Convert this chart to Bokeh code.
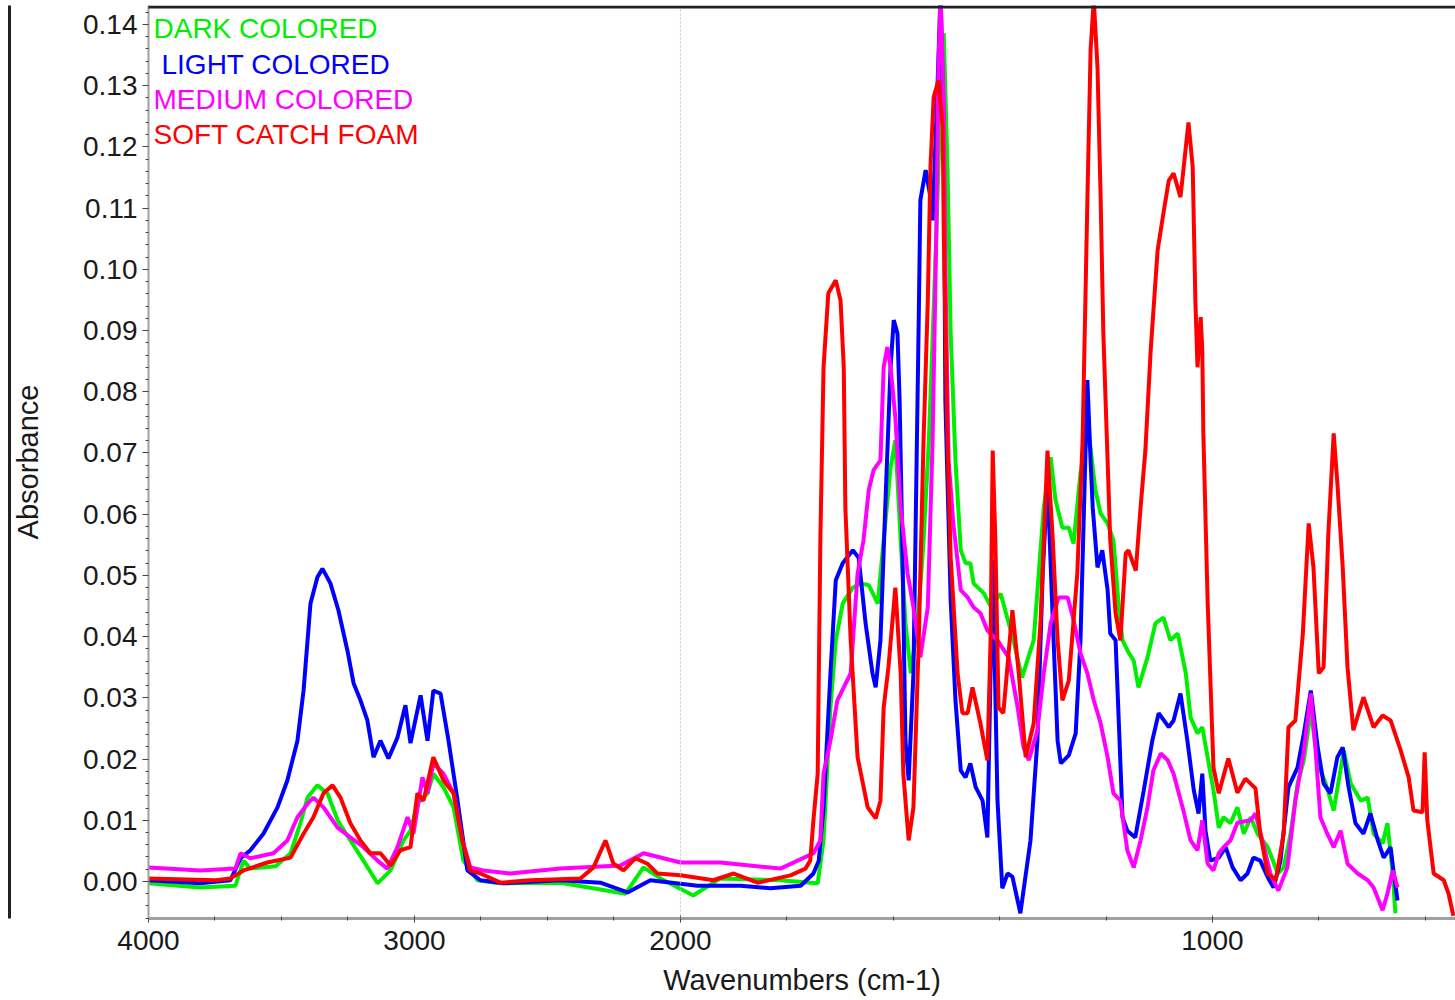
from bokeh.plotting import figure
from bokeh.models import (ColumnDataSource, Range1d, FixedTicker, PrintfTickFormatter,
                          Span, Label, BoxAnnotation, CustomJSTransform, LinearAxis)
from bokeh.transform import transform
from bokeh.embed import file_html
from bokeh.resources import INLINE

FONT = "Liberation Sans"

# (wavenumber cm-1, absorbance) pairs
GREEN = [(4000, -0.0003), (3805, -0.0010), (3673, -0.0007), (3643, 0.0034), (3617, 0.0021), (3522, 0.0025),
         (3466, 0.0046), (3429, 0.0095), (3402, 0.0137), (3365, 0.0157), (3327, 0.0144), (3289, 0.0100),
         (3241, 0.0067), (3192, 0.0034), (3139, -0.0003), (3090, 0.0018), (3041, 0.0067), (3015, 0.0083),
         (2989, 0.0127), (2951, 0.0144), (2929, 0.0176), (2891, 0.0154), (2853, 0.0121), (2816, 0.0034),
         (2763, 0.0002), (2677, -0.0003), (2451, -0.0002), (2207, -0.0020), (2139, 0.0023), (2075, 0.0005),
         (1976, -0.0023), (1925, 0.0005), (1812, 0.0002), (1755, -0.0002), (1742, -0.0003), (1731, 0.0067),
         (1718, 0.0284), (1708, 0.0394), (1695, 0.0454), (1676, 0.0480), (1661, 0.0487), (1646, 0.0484),
         (1629, 0.0454), (1618, 0.0557), (1605, 0.0676), (1596, 0.0721), (1586, 0.0557), (1577, 0.0422),
         (1567, 0.0340), (1554, 0.0422), (1543, 0.0557), (1533, 0.0721), (1520, 0.1031), (1511, 0.1276),
         (1505, 0.1386), (1498, 0.1167), (1492, 0.0895), (1483, 0.0688), (1473, 0.0541), (1464, 0.0520),
         (1455, 0.0520), (1449, 0.0487), (1430, 0.0471), (1417, 0.0450), (1398, 0.0470), (1374, 0.0394),
         (1358, 0.0333), (1336, 0.0394), (1317, 0.0611), (1304, 0.0693), (1295, 0.0623), (1282, 0.0578),
         (1270, 0.0578), (1261, 0.0552), (1248, 0.0667), (1233, 0.0737), (1220, 0.0639), (1210, 0.0601),
         (1197, 0.0585), (1186, 0.0557), (1176, 0.0448), (1169, 0.0394), (1157, 0.0373), (1148, 0.0361),
         (1139, 0.0317), (1122, 0.0366), (1107, 0.0422), (1092, 0.0431), (1079, 0.0394), (1065, 0.0405),
         (1050, 0.0340), (1041, 0.0268), (1028, 0.0242), (1019, 0.0252), (1009, 0.0203), (998, 0.0149),
         (988, 0.0088), (979, 0.0105), (966, 0.0095), (953, 0.0121), (941, 0.0078), (928, 0.0105),
         (915, 0.0078), (896, 0.0056), (877, 0.0013), (866, 0.0023), (853, 0.0078), (840, 0.0160),
         (828, 0.0198), (815, 0.0279), (802, 0.0193), (787, 0.0160), (772, 0.0116), (753, 0.0214),
         (740, 0.0160), (721, 0.0132), (708, 0.0137), (697, 0.0078), (680, 0.0062), (671, 0.0095),
         (661, 0.0013), (656, -0.0052)]

BLUE = [(4000, 0.0002), (3805, -0.0003), (3692, 0.0002), (3654, 0.0038), (3617, 0.0051), (3568, 0.0078),
        (3515, 0.0121), (3478, 0.0165), (3440, 0.0230), (3417, 0.0312), (3391, 0.0454), (3365, 0.0497),
        (3346, 0.0511), (3316, 0.0487), (3286, 0.0443), (3252, 0.0377), (3229, 0.0324), (3203, 0.0296),
        (3177, 0.0263), (3154, 0.0203), (3128, 0.0230), (3098, 0.0201), (3064, 0.0235), (3034, 0.0288),
        (3015, 0.0226), (2977, 0.0304), (2951, 0.0230), (2929, 0.0312), (2902, 0.0307), (2872, 0.0230),
        (2838, 0.0132), (2801, 0.0018), (2752, 0.0002), (2665, -0.0003), (2451, 0.0002), (2301, -0.0002),
        (2199, -0.0018), (2113, 0.0002), (1968, -0.0007), (1887, -0.0007), (1831, -0.0011), (1774, -0.0007),
        (1750, 0.0013), (1740, 0.0034), (1731, 0.0121), (1718, 0.0340), (1708, 0.0492), (1695, 0.0520),
        (1676, 0.0541), (1665, 0.0529), (1652, 0.0422), (1639, 0.0340), (1633, 0.0317), (1624, 0.0394),
        (1615, 0.0611), (1605, 0.0840), (1599, 0.0917), (1592, 0.0895), (1588, 0.0786), (1583, 0.0557),
        (1577, 0.0230), (1571, 0.0165), (1562, 0.0340), (1556, 0.0688), (1552, 0.0922), (1549, 0.1113),
        (1539, 0.1162), (1530, 0.1118), (1526, 0.1080), (1519, 0.1243), (1511, 0.1450), (1505, 0.1222),
        (1502, 0.0786), (1492, 0.0459), (1483, 0.0296), (1473, 0.0181), (1464, 0.0170), (1455, 0.0193),
        (1445, 0.0154), (1432, 0.0132), (1423, 0.0072), (1413, 0.0525), (1404, 0.0132), (1395, -0.0011),
        (1385, 0.0013), (1376, 0.0008), (1361, -0.0052), (1342, 0.0067), (1329, 0.0230), (1319, 0.0503),
        (1310, 0.0655), (1301, 0.0448), (1291, 0.0230), (1285, 0.0193), (1270, 0.0206), (1257, 0.0242),
        (1248, 0.0394), (1238, 0.0721), (1235, 0.0819), (1229, 0.0688), (1225, 0.0611), (1216, 0.0513),
        (1207, 0.0541), (1197, 0.0476), (1192, 0.0405), (1182, 0.0394), (1177, 0.0284), (1169, 0.0105),
        (1160, 0.0083), (1145, 0.0072), (1129, 0.0149), (1113, 0.0230), (1101, 0.0275), (1082, 0.0252),
        (1073, 0.0263), (1060, 0.0307), (1047, 0.0230), (1035, 0.0149), (1026, 0.0111), (1019, 0.0176),
        (1013, 0.0083), (1004, 0.0034), (988, 0.0039), (975, 0.0056), (962, 0.0023), (947, 0.0002),
        (934, 0.0013), (923, 0.0039), (910, 0.0034), (896, 0.0007), (885, -0.0010), (872, 0.0034),
        (857, 0.0154), (840, 0.0186), (828, 0.0242), (815, 0.0312), (802, 0.0219), (791, 0.0160),
        (778, 0.0144), (765, 0.0203), (755, 0.0219), (744, 0.0154), (731, 0.0095), (716, 0.0078),
        (703, 0.0111), (689, 0.0067), (678, 0.0039), (665, 0.0056), (659, 0.0013), (652, -0.0031)]

MAGENTA = [(4000, 0.0023), (3805, 0.0018), (3673, 0.0021), (3654, 0.0046), (3617, 0.0038), (3530, 0.0046),
           (3478, 0.0067), (3440, 0.0105), (3402, 0.0127), (3380, 0.0137), (3342, 0.0121), (3289, 0.0088),
           (3241, 0.0072), (3192, 0.0056), (3139, 0.0034), (3102, 0.0021), (3064, 0.0056), (3026, 0.0105),
           (3004, 0.0078), (2970, 0.0170), (2951, 0.0144), (2929, 0.0193), (2891, 0.0176), (2853, 0.0144),
           (2820, 0.0067), (2790, 0.0023), (2741, 0.0018), (2640, 0.0013), (2451, 0.0021), (2226, 0.0026),
           (2139, 0.0046), (2000, 0.0031), (1925, 0.0031), (1812, 0.0021), (1750, 0.0046), (1737, 0.0067),
           (1731, 0.0176), (1718, 0.0230), (1705, 0.0296), (1693, 0.0317), (1680, 0.0340), (1667, 0.0503),
           (1656, 0.0557), (1646, 0.0639), (1637, 0.0672), (1624, 0.0688), (1618, 0.0840), (1611, 0.0873),
           (1605, 0.0840), (1596, 0.0758), (1586, 0.0611), (1573, 0.0503), (1562, 0.0448), (1549, 0.0366),
           (1535, 0.0448), (1526, 0.0721), (1519, 0.1059), (1515, 0.1330), (1511, 0.1450), (1505, 0.1276),
           (1502, 0.1003), (1496, 0.0688), (1487, 0.0585), (1473, 0.0476), (1460, 0.0464), (1449, 0.0448),
           (1436, 0.0438), (1423, 0.0410), (1404, 0.0394), (1383, 0.0366), (1366, 0.0284), (1355, 0.0219),
           (1345, 0.0198), (1329, 0.0247), (1317, 0.0340), (1304, 0.0422), (1289, 0.0464), (1272, 0.0464),
           (1261, 0.0427), (1248, 0.0373), (1235, 0.0340), (1223, 0.0296), (1210, 0.0258), (1197, 0.0203),
           (1186, 0.0144), (1173, 0.0132), (1160, 0.0051), (1148, 0.0023), (1135, 0.0067), (1122, 0.0121),
           (1111, 0.0181), (1097, 0.0209), (1084, 0.0198), (1073, 0.0176), (1056, 0.0121), (1041, 0.0067),
           (1028, 0.0051), (1019, 0.0100), (1009, 0.0029), (998, 0.0018), (988, 0.0046), (979, 0.0056),
           (966, 0.0067), (953, 0.0096), (928, 0.0100), (919, 0.0111), (906, 0.0067), (891, 0.0013),
           (876, -0.0015), (859, 0.0023), (844, 0.0132), (828, 0.0214), (815, 0.0307), (806, 0.0214),
           (797, 0.0105), (784, 0.0078), (772, 0.0056), (759, 0.0083), (746, 0.0029), (727, 0.0013),
           (708, 0.0002), (697, -0.0010), (680, -0.0047), (671, -0.0020), (661, 0.0018), (652, -0.0010)]

RED = [(4000, 0.0005), (3747, 0.0002), (3692, 0.0005), (3643, 0.0018), (3553, 0.0031), (3466, 0.0039),
       (3417, 0.0078), (3380, 0.0105), (3342, 0.0144), (3308, 0.0157), (3278, 0.0137), (3241, 0.0095),
       (3203, 0.0067), (3166, 0.0046), (3128, 0.0046), (3090, 0.0026), (3053, 0.0051), (3015, 0.0056),
       (2989, 0.0144), (2966, 0.0132), (2929, 0.0203), (2891, 0.0165), (2853, 0.0144), (2820, 0.0067),
       (2790, 0.0018), (2752, 0.0013), (2677, -0.0002), (2564, 0.0002), (2376, 0.0005), (2327, 0.0023),
       (2282, 0.0067), (2252, 0.0029), (2214, 0.0018), (2169, 0.0038), (2124, 0.0029), (2087, 0.0013),
       (2000, 0.0010), (1938, 0.0002), (1900, 0.0013), (1855, -0.0002), (1793, 0.0010), (1765, 0.0021),
       (1756, 0.0034), (1750, 0.0100), (1742, 0.0176), (1737, 0.0557), (1731, 0.0840), (1722, 0.0961),
       (1708, 0.0982), (1699, 0.0949), (1693, 0.0840), (1690, 0.0611), (1680, 0.0394), (1667, 0.0203),
       (1648, 0.0121), (1633, 0.0103), (1624, 0.0132), (1618, 0.0284), (1609, 0.0350), (1596, 0.0480),
       (1586, 0.0340), (1581, 0.0176), (1571, 0.0067), (1562, 0.0121), (1552, 0.0394), (1543, 0.0721),
       (1535, 0.0949), (1530, 0.1167), (1524, 0.1281), (1515, 0.1309), (1507, 0.1232), (1505, 0.1059),
       (1498, 0.0721), (1492, 0.0529), (1479, 0.0340), (1470, 0.0275), (1460, 0.0275), (1451, 0.0317),
       (1436, 0.0258), (1423, 0.0198), (1417, 0.0394), (1413, 0.0704), (1408, 0.0557), (1402, 0.0284),
       (1393, 0.0275), (1376, 0.0443), (1364, 0.0340), (1351, 0.0203), (1336, 0.0258), (1323, 0.0426),
       (1310, 0.0704), (1300, 0.0557), (1291, 0.0394), (1282, 0.0296), (1270, 0.0328), (1254, 0.0503),
       (1244, 0.0721), (1235, 0.1113), (1229, 0.1358), (1223, 0.1440), (1216, 0.1330), (1210, 0.1113),
       (1205, 0.0895), (1197, 0.0688), (1192, 0.0557), (1182, 0.0438), (1173, 0.0394), (1163, 0.0536),
       (1158, 0.0541), (1144, 0.0508), (1135, 0.0611), (1126, 0.0704), (1116, 0.0868), (1103, 0.1031),
       (1092, 0.1092), (1082, 0.1145), (1073, 0.1157), (1060, 0.1118), (1050, 0.1199), (1045, 0.1240),
       (1037, 0.1167), (1032, 0.0949), (1028, 0.0840), (1022, 0.0922), (1019, 0.0868), (1017, 0.0732),
       (1009, 0.0459), (998, 0.0186), (988, 0.0144), (970, 0.0201), (953, 0.0145), (938, 0.0168),
       (919, 0.0152), (910, 0.0078), (896, 0.0013), (881, 0.0002), (866, 0.0078), (857, 0.0252),
       (844, 0.0263), (830, 0.0405), (819, 0.0585), (810, 0.0513), (800, 0.0340), (791, 0.0350),
       (782, 0.0569), (772, 0.0732), (765, 0.0650), (755, 0.0513), (746, 0.0350), (735, 0.0247),
       (716, 0.0301), (697, 0.0252), (680, 0.0271), (665, 0.0263), (646, 0.0214), (631, 0.0170),
       (622, 0.0116), (605, 0.0113), (601, 0.0211), (596, 0.0100), (584, 0.0013), (565, 0.0002),
       (556, -0.0020), (547, -0.0056)]

SERIES_NAMES = ["DARK COLORED", "LIGHT COLORED", "MEDIUM COLORED", "SOFT CATCH FOAM"]
SERIES_DATA = [GREEN, BLUE, MAGENTA, RED]
SERIES_COLORS = ["#00ee00", "#0000ff", "#ff00ff", "#ff0000"]

X_MAJOR = [4000, 3000, 2000, 1000]
X_MINOR = [3750, 3500, 3250, 2750, 2500, 2250, 1800, 1600, 1400, 1200, 800, 600]
Y_MAJOR = [0.00, 0.01, 0.02, 0.03, 0.04, 0.05, 0.06, 0.07, 0.08, 0.09, 0.10, 0.11, 0.12, 0.13, 0.14]


def wn_axis(w):
    # spectrometer axis: 1x scale above 2000 cm-1, 2x scale below 2000 cm-1
    return 4000 - w if w >= 2000 else 6000 - 2 * w


wn_tf = CustomJSTransform(
    func="return x >= 2000 ? 4000 - x : 6000 - 2*x;",
    v_func="""
        const out = new Float64Array(xs.length);
        for (let i = 0; i < xs.length; i++) {
            const w = xs[i];
            out[i] = w >= 2000 ? 4000 - w : 6000 - 2*w;
        }
        return out;
    """)

W, H = 1455, 1000
p = figure(width=W, height=H, output_backend="svg", toolbar_location=None,
           x_range=Range1d(wn_axis(4000), wn_axis(543)),
           y_range=Range1d(-0.00605, 0.14310),
           min_border_left=148, min_border_right=0, min_border_top=5, min_border_bottom=82)
p.outline_line_color = None
p.background_fill_color = "white"
p.border_fill_color = "white"
p.xgrid.visible = False
p.ygrid.visible = False

xax = p.xaxis[0]
yax = p.yaxis[0]

# x axis
xax.ticker = FixedTicker(ticks=[wn_axis(w) for w in X_MAJOR],
                         minor_ticks=[wn_axis(w) for w in X_MINOR])
xax.major_label_overrides = {wn_axis(w): str(w) for w in X_MAJOR}
xax.axis_label = "Wavenumbers (cm-1)"
# y axis
yax.ticker = FixedTicker(ticks=Y_MAJOR,
                         minor_ticks=[round(-0.006 + 0.002 * i, 3) for i in range(75)])
yax.formatter = PrintfTickFormatter(format="%.2f")
yax.axis_label = "Absorbance"

for ax in (xax, yax):
    ax.axis_line_color = "#a0a0a0"
    ax.major_tick_line_color = "#444444"
    ax.minor_tick_line_color = "#444444"
    ax.major_label_text_font = FONT
    ax.major_label_text_font_size = "28px"
    ax.major_label_text_color = "#1a1a1a"
    ax.axis_label_text_font = FONT
    ax.axis_label_text_font_size = "29px"
    ax.axis_label_text_font_style = "normal"
    ax.axis_label_text_color = "#1a1a1a"

xax.axis_line_width = 3
xax.major_tick_in = 3
xax.major_tick_out = 4
xax.minor_tick_in = 2
xax.minor_tick_out = 2
xax.major_label_standoff = 8
xax.axis_label_standoff = 11

yax.axis_line_width = 2
yax.major_tick_in = 0
yax.major_tick_out = 6
yax.minor_tick_in = 0
yax.minor_tick_out = 3
yax.major_label_standoff = 5
yax.axis_label_standoff = 36

# dotted marker of the scale change at 2000 cm-1
p.add_layout(Span(location=wn_axis(2000), dimension="height", line_color="#c8c8c8",
                  line_width=1, line_dash="2 2"))

for data, color in zip(SERIES_DATA, SERIES_COLORS):
    src = ColumnDataSource(dict(wn=[d[0] for d in data], ab=[d[1] for d in data]))
    p.line(x=transform("wn", wn_tf), y="ab", source=src, line_color=color, line_width=4)

# legend as coloured text
LEG_Y = [0.1394, 0.1335, 0.1278, 0.1221]
LEG_DX = [5, 13, 5, 5]
for name, color, ly, dx in zip(SERIES_NAMES, SERIES_COLORS, LEG_Y, LEG_DX):
    p.add_layout(Label(x=wn_axis(4000), y=ly, x_offset=dx, text=name, text_color=color,
                       text_font=FONT, text_font_size="28px", text_baseline="middle",
                       text_align="left"))

# outer chart box: top edge
p.add_layout(BoxAnnotation(left=0, right=W, top=5, bottom=8, left_units="canvas",
                           right_units="canvas", top_units="canvas", bottom_units="canvas",
                           fill_color="#222222", fill_alpha=1.0, line_color=None))
# outer chart box: left edge (an empty axis placed outside the value axis)
border_axis = LinearAxis(ticker=FixedTicker(ticks=[]), axis_line_color="#222222",
                         axis_line_width=3, major_tick_line_color=None,
                         minor_tick_line_color=None, major_label_text_color=None)
p.add_layout(border_axis, "left")

open("out.html", "w").write(file_html(p, INLINE))
